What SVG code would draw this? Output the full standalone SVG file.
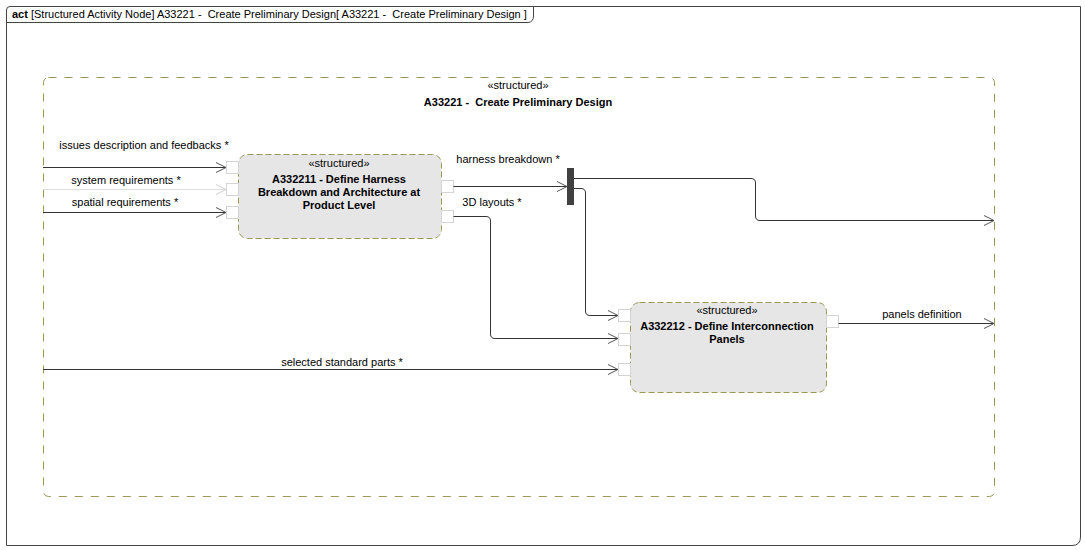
<svg xmlns="http://www.w3.org/2000/svg" width="1085" height="550" viewBox="0 0 1085 550">
<defs>
<style>
text{font-family:"Liberation Sans",Arial,sans-serif;font-size:11px;fill:#000}
.b{font-weight:bold}
.c{text-anchor:middle}
.frame{fill:#fff;stroke:#444;stroke-width:1}
.cont{fill:none;stroke:#999955;stroke-width:1;stroke-dasharray:8 8}
.node{fill:#e6e6e6;stroke:#999955;stroke-width:1;stroke-dasharray:6 3}
.pin{fill:#fff;stroke:#d4d4d4;stroke-width:1}
.flow{fill:none;stroke:#333;stroke-width:1;marker-end:url(#arr)}
.flowlight{fill:none;stroke:#dedede;stroke-width:1;marker-end:url(#arrl)}
</style>
<marker id="arr" markerWidth="12" markerHeight="12" refX="11" refY="6" orient="auto" markerUnits="userSpaceOnUse">
<path d="M1,1 L11,6 L1,11" fill="none" stroke="#555" stroke-width="1"/>
</marker>
<marker id="arrl" markerWidth="12" markerHeight="12" refX="11" refY="6" orient="auto" markerUnits="userSpaceOnUse">
<path d="M1,1 L11,6 L1,11" fill="none" stroke="#d0d0d0" stroke-width="1"/>
</marker>
</defs>
<rect width="1085" height="550" fill="#fff"/>
<g id="frame">
<path class="frame" d="M6.5,10 Q6.5,6.5 10,6.5 L1080.5,6.5 L1080.5,537 Q1080.5,545.5 1072,545.5 L6.5,545.5 Z"/>
<path d="M6.5,22.5 L528,22.5 Q533.5,22 533.5,16 L533.5,6.5" fill="none" stroke="#444" stroke-width="1"/>
<text x="12" y="18" xml:space="preserve"><tspan class="b">act</tspan> [Structured Activity Node] A33221 -  Create Preliminary Design[ A33221 -  Create Preliminary Design ]</text>
</g>
<g id="container">
<rect class="cont" x="43.5" y="77.5" width="951" height="419" rx="5"/>
<text class="c" x="518" y="89">«structured»</text>
<text class="c b" x="518" y="106" xml:space="preserve">A33221 -  Create Preliminary Design</text>
</g>
<g id="node1">
<rect class="node" x="238.5" y="154.5" width="203" height="84" rx="9"/>
<rect class="pin" x="226.5" y="161.5" width="12" height="12"/>
<rect class="pin" x="226.5" y="183.5" width="12" height="12"/>
<rect class="pin" x="226.5" y="206.5" width="12" height="12"/>
<rect class="pin" x="441.5" y="180.5" width="12" height="12"/>
<rect class="pin" x="441.5" y="210.5" width="12" height="12"/>
<text class="c" x="339" y="167">«structured»</text>
<text class="c b" x="339" y="183">A332211 - Define Harness</text>
<text class="c b" x="339" y="196">Breakdown and Architecture at</text>
<text class="c b" x="339" y="209">Product Level</text>
</g>
<g id="node2">
<rect class="node" x="630.5" y="302.5" width="196" height="90" rx="9"/>
<rect class="pin" x="618.5" y="309.5" width="12" height="12"/>
<rect class="pin" x="618.5" y="333.5" width="12" height="12"/>
<rect class="pin" x="618.5" y="363.5" width="12" height="12"/>
<rect class="pin" x="826.5" y="315.5" width="12" height="12"/>
<text class="c" x="727" y="314">«structured»</text>
<text class="c b" x="727" y="330">A332212 - Define Interconnection</text>
<text class="c b" x="727" y="343">Panels</text>
</g>
<g id="fork">
<rect x="567" y="168" width="7" height="37" fill="#404040"/>
</g>
<g id="connectors">
<path class="flow" d="M43,167.5 L226,167.5"/>
<path class="flowlight" d="M43,189.5 L226,189.5"/>
<path class="flow" d="M43,212.5 L226,212.5"/>
<path class="flow" d="M453.5,186.5 L567,186.5"/>
<path class="flow" d="M574,178.5 L751,178.5 Q755.5,178.5 755.5,183 L755.5,216 Q755.5,220.5 760,220.5 L994,220.5"/>
<path class="flow" d="M574,188.5 L581,188.5 Q585.5,188.5 585.5,193 L585.5,311 Q585.5,315.5 590,315.5 L618,315.5"/>
<path class="flow" d="M453.5,216.5 L486,216.5 Q490.5,216.5 490.5,221 L490.5,334 Q490.5,338.5 495,338.5 L618,338.5"/>
<path class="flow" d="M43,369.5 L618,369.5"/>
<path class="flow" d="M838.5,323.5 L994,323.5"/>
<text class="c" x="144" y="149">issues description and feedbacks *</text>
<text class="c" x="126" y="184">system requirements *</text>
<text class="c" x="125" y="206">spatial requirements *</text>
<text class="c" x="508" y="163">harness breakdown *</text>
<text class="c" x="492" y="206">3D layouts *</text>
<text class="c" x="342" y="366">selected standard parts *</text>
<text class="c" x="922" y="318">panels definition</text>
</g>
</svg>
